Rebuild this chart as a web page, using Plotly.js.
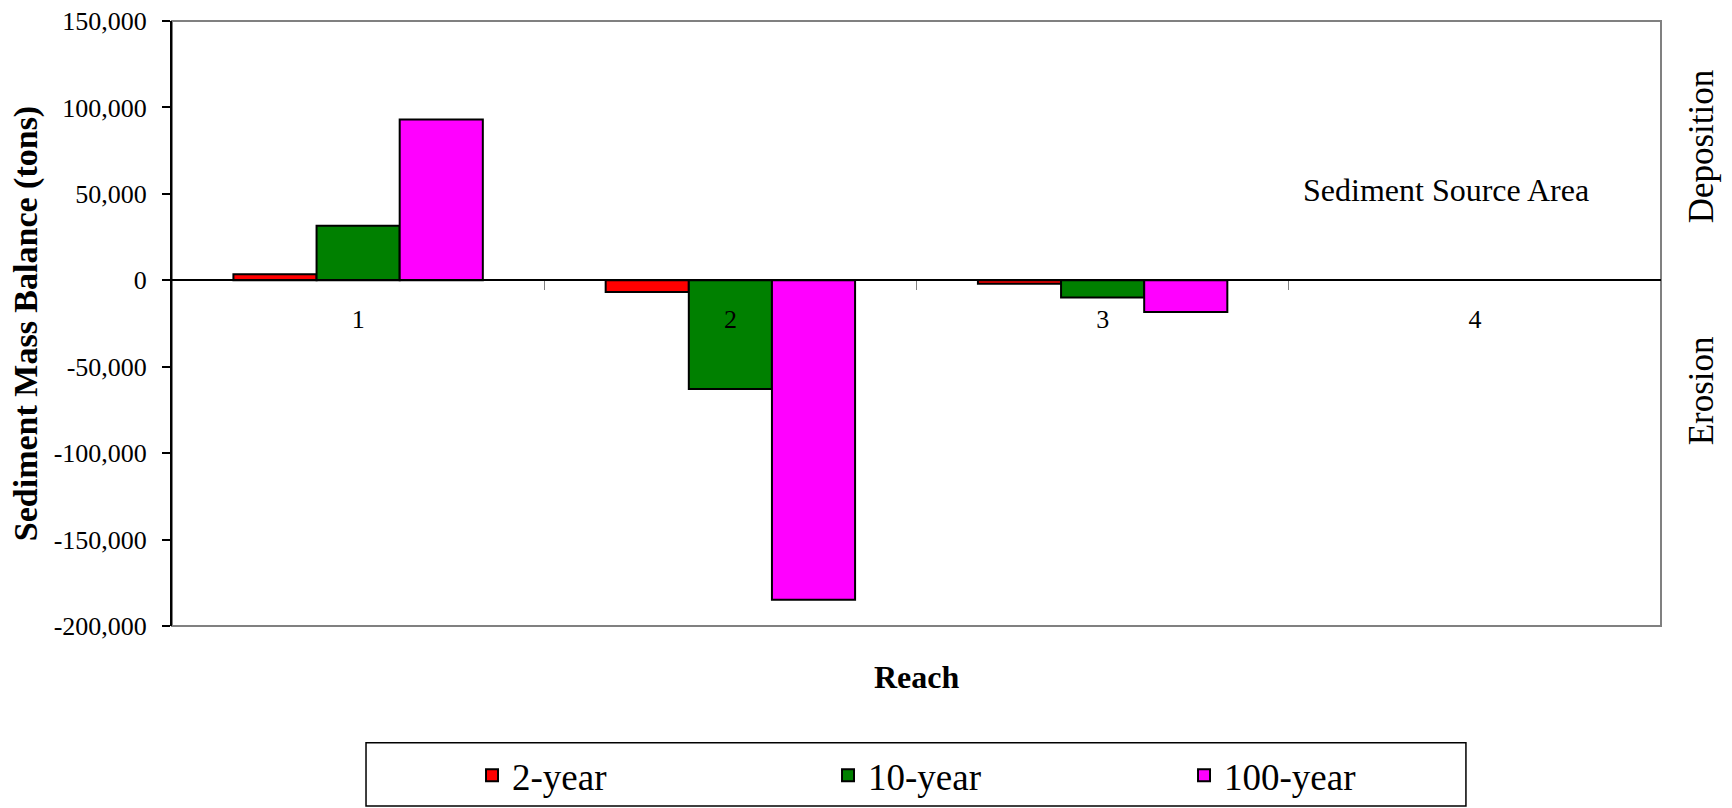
<!DOCTYPE html>
<html>
<head>
<meta charset="utf-8">
<script src="https://cdn.plot.ly/plotly-3.0.1.min.js"></script>
<style>
  html, body { margin: 0; padding: 0; background: #ffffff; }
  #chart { width: 1732px; height: 808px; }
</style>
</head>
<body>
<div id="chart"></div>
<script>
// ---- data ----
var reaches = ['1', '2', '3', '4'];
var seriesNames = ['2-year', '10-year', '100-year'];
var twoYear = [3500, -6800, -2000, null];
var tenYear = [31600, -62900, -10000, null];
var hundredYear = [93000, -184800, -18300, null];
var yTickVals = [-200000, -150000, -100000, -50000, 0, 50000, 100000, 150000];
var yTickText = ['-200,000', '-150,000', '-100,000', '-50,000', '0', '50,000', '100,000', '150,000'];
var seriesColors = ['#FF0000', '#008000', '#FF00FF'];

var FONT = '"Liberation Serif", "Times New Roman", Times, serif';
var yMin = -200000, yMax = 150000;

var seriesValues = [twoYear, tenYear, hundredYear];
var traces = seriesValues.map(function (vals, i) {
  return {
    type: 'bar',
    name: seriesNames[i],
    x: reaches,
    y: vals,
    marker: { color: seriesColors[i], line: { color: '#000000', width: 2 } },
    hoverinfo: 'x+y+name'
  };
});

var layout = {
  width: 1732,
  height: 808,
  margin: { l: 172, r: 71, t: 21, b: 182, autoexpand: false },
  paper_bgcolor: '#ffffff',
  plot_bgcolor: '#ffffff',
  font: { family: FONT, color: '#000000', size: 26 },
  barmode: 'group',
  bargap: 0.33,
  bargroupgap: 0,
  showlegend: true,
  legend: {
    orientation: 'h',
    x: 0.2015,
    xanchor: 'left',
    y: -0.2476,
    yanchor: 'middle',
    font: { family: FONT, size: 37, color: '#000000' },
    bgcolor: 'rgba(0,0,0,0)',
    borderwidth: 0,
    entrywidth: 311,
    entrywidthmode: 'pixels',
    traceorder: 'normal'
  },
  xaxis: {
    type: 'category',
    anchor: 'free',
    position: (0 - yMin) / (yMax - yMin),
    automargin: false,
    showline: true,
    linecolor: '#000000',
    linewidth: 1.5,
    ticks: 'outside',
    tickson: 'boundaries',
    ticklen: 9,
    tickwidth: 1,
    tickcolor: '#808080',
    ticklabelstandoff: 16,
    tickfont: { family: FONT, size: 26, color: '#000000' },
    showgrid: false,
    zeroline: false,
    fixedrange: true
  },
  yaxis: {
    range: [yMin, yMax],
    tickvals: yTickVals,
    ticktext: yTickText,
    automargin: false,
    showline: true,
    linecolor: '#000000',
    linewidth: 2,
    ticks: 'outside',
    ticklen: 8,
    tickwidth: 1.5,
    tickcolor: '#000000',
    ticklabelstandoff: 10,
    tickfont: { family: FONT, size: 26, color: '#000000' },
    showgrid: false,
    zeroline: false,
    fixedrange: true,
    title: { text: '<b>Sediment Mass Balance (tons)</b>', font: { family: FONT, size: 34, color: '#000000' }, standoff: 6 }
  },
  shapes: [
    { type: 'rect', xref: 'paper', yref: 'paper', x0: 0, x1: 1, y0: 0, y1: 1,
      line: { color: '#808080', width: 2 }, fillcolor: 'rgba(0,0,0,0)', layer: 'below' },
    { type: 'rect', xref: 'paper', yref: 'paper', x0: 0.1303, x1: 0.8690, y0: -0.1929, y1: -0.2975,
      line: { color: '#000000', width: 1.5 }, fillcolor: 'rgba(0,0,0,0)', layer: 'below' }
  ],
  annotations: [
    { text: '<b>Reach</b>', xref: 'paper', yref: 'paper', x: 0.5003, y: -0.0838,
      xanchor: 'center', yanchor: 'middle', showarrow: false,
      font: { family: FONT, size: 32, color: '#000000' } },
    { text: 'Sediment Source Area', xref: 'paper', yref: 'paper', x: 0.8556, y: 0.7207,
      xanchor: 'center', yanchor: 'middle', showarrow: false,
      font: { family: FONT, size: 32, color: '#000000' } },
    { text: 'Deposition', xref: 'paper', yref: 'paper', x: 1.0273, y: 0.7922,
      xanchor: 'center', yanchor: 'middle', textangle: -90, showarrow: false,
      font: { family: FONT, size: 35, color: '#000000' } },
    { text: 'Erosion', xref: 'paper', yref: 'paper', x: 1.0273, y: 0.3889,
      xanchor: 'center', yanchor: 'middle', textangle: -90, showarrow: false,
      font: { family: FONT, size: 35, color: '#000000' } }
  ]
};

Plotly.newPlot('chart', traces, layout, { displayModeBar: false, responsive: false, staticPlot: false });
</script>
</body>
</html>
